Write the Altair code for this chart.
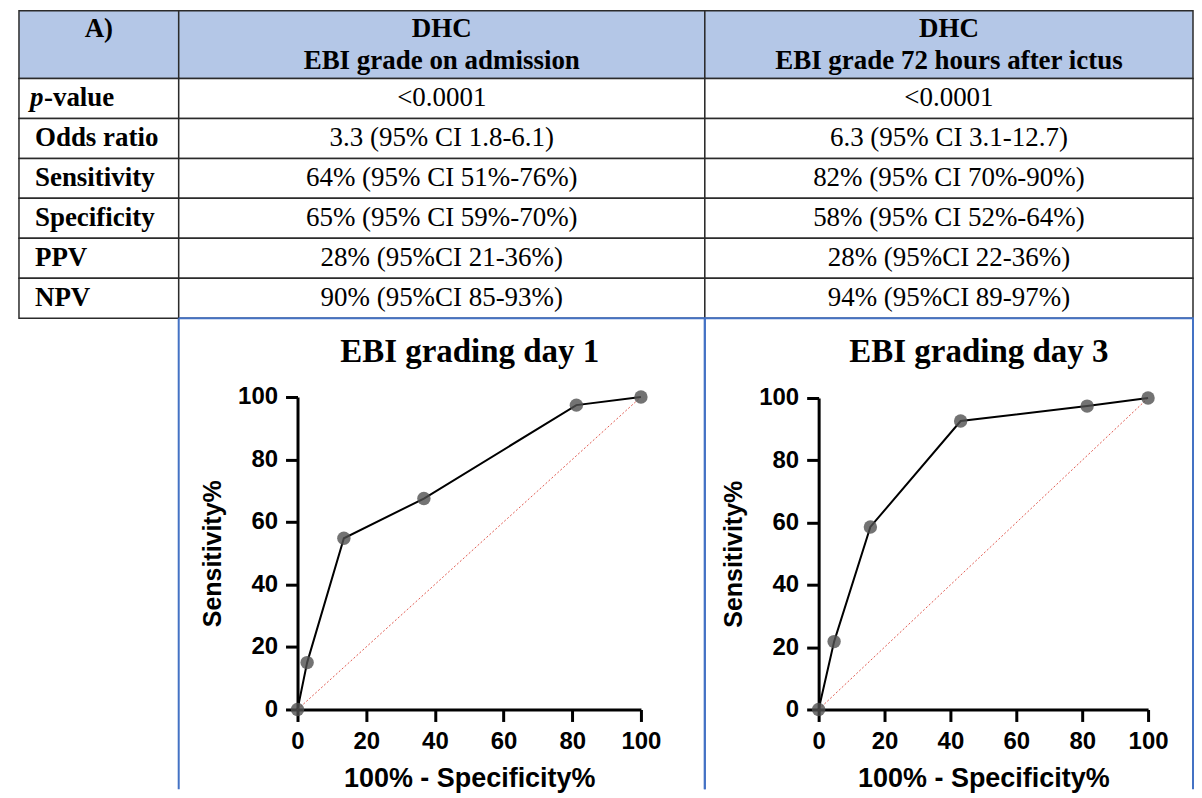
import altair as alt
import pandas as pd

# ---------------- table content ----------------
col_headers = ["A)", "DHC\nEBI grade on admission", "DHC\nEBI grade 72 hours after ictus"]
row_labels = ["p-value", "Odds ratio", "Sensitivity", "Specificity", "PPV", "NPV"]
row_label_italic = ["p", "", "", "", "", ""]
row_label_plain = ["-value", "Odds ratio", "Sensitivity", "Specificity", "PPV", "NPV"]
day1_values = ["<0.0001", "3.3 (95% CI 1.8-6.1)", "64% (95% CI 51%-76%)",
               "65% (95% CI 59%-70%)", "28% (95%CI 21-36%)", "90% (95%CI 85-93%)"]
day3_values = ["<0.0001", "6.3 (95% CI 3.1-12.7)", "82% (95% CI 70%-90%)",
               "58% (95% CI 52%-64%)", "28% (95%CI 22-36%)", "94% (95%CI 89-97%)"]

# ---------------- ROC curves ----------------
roc_titles = ["EBI grading day 1", "EBI grading day 3"]
day1_fpr = [0, 2.8, 13.5, 36.8, 81.2, 100]
day1_sens = [0, 15.0, 54.8, 67.5, 97.4, 100]
day3_fpr = [0, 4.7, 15.7, 43.1, 81.5, 100]
day3_sens = [0, 21.8, 58.6, 92.6, 97.4, 100]
chance_x = [0, 100]
chance_y = [0, 100]
tick_values = [0, 20, 40, 60, 80, 100]

# ---------------- style / layout ----------------
SERIF = "Liberation Serif"
SANS = "Liberation Sans"
HEADER_FILL = "#B4C7E7"
GRID = "#2b2b2b"
BLUE = "#4472C4"
RED = "#E05A50"
FS = 27
COL_W = [160, 527, 489]
HEADER_H = 68
BODY_H = 240
PANEL_H = 472

band0 = alt.Scale(paddingInner=0, paddingOuter=0)


def header_cell(text, width, dy):
    df = pd.DataFrame({"h": [text], "c": ["c"]})
    y = alt.Y("c:N", axis=None, scale=band0)
    x = alt.X("c:N", axis=None, scale=band0)
    rect = alt.Chart(df).mark_rect(fill=HEADER_FILL, stroke=GRID, strokeWidth=1.5).encode(x=x, y=y)
    txt = alt.Chart(df).mark_text(font=SERIF, fontSize=FS, fontWeight="bold", color="black",
                                  lineBreak="\n", lineHeight=32, baseline="middle",
                                  align="center", dy=dy).encode(x=x, y=y, text="h:N")
    return alt.layer(rect, txt).properties(width=width, height=HEADER_H)


def value_column(values, width):
    df = pd.DataFrame({"row": row_labels, "txt": values, "c": ["c"] * len(values)})
    y = alt.Y("row:N", sort=row_labels, axis=None, scale=band0)
    x = alt.X("c:N", axis=None, scale=band0)
    rect = alt.Chart(df).mark_rect(fill="white", stroke=GRID, strokeWidth=1.5).encode(x=x, y=y)
    txt = alt.Chart(df).mark_text(font=SERIF, fontSize=FS, color="black", baseline="middle",
                                  align="center").encode(x=x, y=y, text="txt:N")
    return alt.layer(rect, txt).properties(width=width, height=BODY_H)


def label_column(width):
    df = pd.DataFrame({"row": row_labels, "it": row_label_italic, "pl": row_label_plain,
                       "c": ["c"] * len(row_labels)})
    y = alt.Y("row:N", sort=row_labels, axis=None, scale=band0)
    x = alt.X("c:N", axis=None, scale=band0)
    xt = alt.X("c:N", axis=None, scale=band0, bandPosition=0)
    base = alt.Chart(df)
    rect = base.mark_rect(fill="white", stroke=GRID, strokeWidth=1.5).encode(x=x, y=y)
    style = dict(font=SERIF, fontSize=FS, fontWeight="bold", color="black",
                 baseline="middle", align="left")
    ital = base.transform_filter(alt.datum.it != "").mark_text(
        fontStyle="italic", dx=11, **style).encode(x=xt, y=y, text="it:N")
    rest_p = base.transform_filter(alt.datum.it != "").mark_text(
        dx=25, **style).encode(x=xt, y=y, text="pl:N")
    rest = base.transform_filter(alt.datum.it == "").mark_text(
        dx=16, **style).encode(x=xt, y=y, text="pl:N")
    return alt.layer(rect, ital, rest_p, rest).properties(width=width, height=BODY_H)


axis_style = dict(grid=False, domainColor="black", domainWidth=3, tickColor="black",
                  tickWidth=3, tickSize=12, labelFont=SANS, labelFontSize=24,
                  labelFontWeight="bold", labelColor="black", labelPadding=8,
                  labelOverlap=False, labelFlush=False,
                  titleFont=SANS, titleFontWeight="bold", titleColor="black")


def roc_panel(title, fpr, sens, width, x_range, y_range, title_dx):
    curve = pd.DataFrame({"fpr": fpr, "sens": sens})
    diag = pd.DataFrame({"fpr": chance_x, "sens": chance_y})
    xs = alt.Scale(domain=[0, 100], range=x_range, nice=False, zero=False)
    ys = alt.Scale(domain=[0, 100], range=y_range, nice=False, zero=False)
    X = alt.X("fpr:Q", scale=xs,
              axis=alt.Axis(values=tick_values, title="100% - Specificity%",
                            offset=y_range[0] - PANEL_H, titlePadding=12,
                            titleFontSize=27, **axis_style))
    Y = alt.Y("sens:Q", scale=ys,
              axis=alt.Axis(values=tick_values, title="Sensitivity%",
                            offset=-x_range[0], titlePadding=12,
                            titleFontSize=25, **axis_style))
    d = alt.Chart(diag).mark_line(color=RED, strokeWidth=1, strokeDash=[2, 2]).encode(x=X, y=Y)
    ln = alt.Chart(curve).mark_line(color="black", strokeWidth=2).encode(x=X, y=Y)
    pt = alt.Chart(curve).mark_circle(size=180, color="#505050", opacity=0.8).encode(x=X, y=Y)
    # panel frame: top, right and left edges drawn, bottom edge (cut off in the figure) left open
    frame_dash = [width + PANEL_H, width, PANEL_H, 0]
    return alt.layer(d, ln, pt).properties(
        width=width, height=PANEL_H,
        view=alt.ViewBackground(stroke=BLUE, strokeWidth=2, strokeDash=frame_dash),
        title=alt.TitleParams(text=title, font=SERIF, fontSize=33, fontWeight="bold",
                              color="black", anchor="middle", frame="group", offset=0,
                              baseline="alphabetic", dy=77, dx=title_dx),
    )


spacer = alt.Chart(pd.DataFrame({"v": [0]})).mark_point(opacity=0).encode(
    x=alt.value(0), y=alt.value(0)).properties(width=COL_W[0], height=PANEL_H)

cells = [
    header_cell(col_headers[0], COL_W[0], -16),
    header_cell(col_headers[1], COL_W[1], -16),
    header_cell(col_headers[2], COL_W[2], -16),
    label_column(COL_W[0]),
    value_column(day1_values, COL_W[1]),
    value_column(day3_values, COL_W[2]),
    spacer,
    roc_panel(roc_titles[0], day1_fpr, day1_sens, COL_W[1], [119, 463], [392, 79], 28),
    roc_panel(roc_titles[1], day3_fpr, day3_sens, COL_W[2], [114, 444], [392, 80], 30),
]

chart = alt.concat(*cells, columns=3, spacing=0, bounds="flush").properties(
    padding={"left": 8, "top": 1, "right": 0, "bottom": 0},
    background="white",
).configure_view(strokeWidth=0)

chart.save("out.html", embed_options={"renderer": "svg", "actions": False})
